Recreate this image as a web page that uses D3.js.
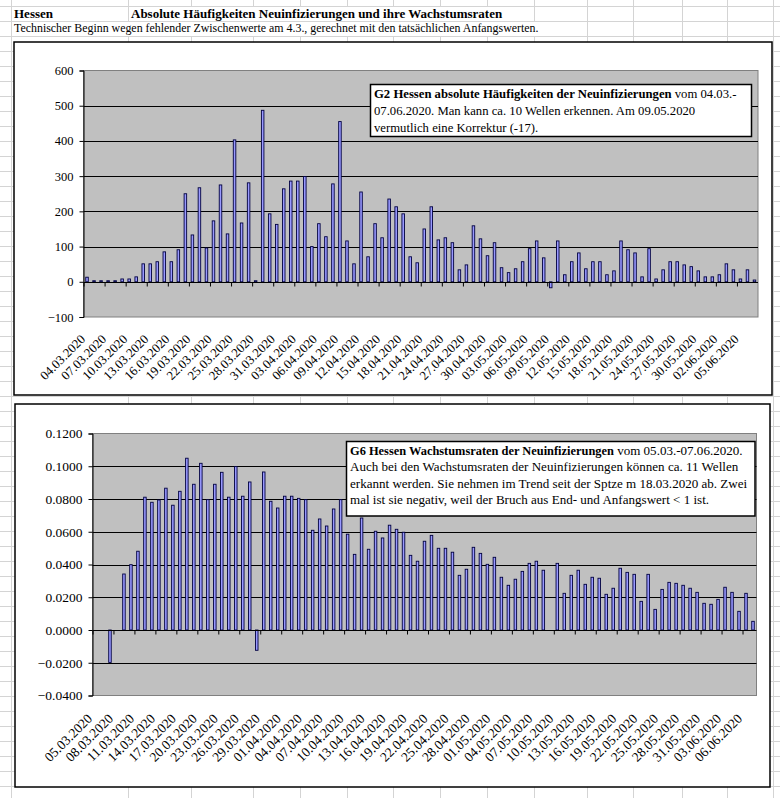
<!DOCTYPE html>
<html>
<head>
<meta charset="utf-8">
<script src="https://cdn.jsdelivr.net/npm/d3@7"></script>
<style>
  body { margin: 0; background: #fff; }
  text { font-family: "Liberation Serif", "Times New Roman", serif; fill: #000; }
</style>
</head>
<body>
<svg id="sheet" width="780" height="798"></svg>
<script>
// ---- data ----
// G2: absolute new infections per day, 04.03.2020 - 07.06.2020
var g2Values = [13, 3, 3, 3, 3, 8, 8, 14, 51, 51, 57, 85, 57, 91, 250, 133, 267, 96, 173, 275,
  136, 403, 167, 281, 3, 487, 193, 163, 264, 286, 286, 299, 100, 165, 128, 278, 455, 116, 51, 255,
  71, 165, 125, 235, 213, 193, 71, 54, 150, 213, 119, 125, 111, 34, 48, 159, 122, 74, 111, 40,
  26, 37, 57, 94, 116, 68, -17, 116, 20, 57, 82, 37, 57, 57, 20, 31, 116, 91, 82, 14,
  94, 8, 34, 57, 57, 48, 43, 31, 14, 14, 20, 51, 34, 8, 34, 5];
var g2TickLabels = ["04.03.2020", "07.03.2020", "10.03.2020", "13.03.2020", "16.03.2020", "19.03.2020",
  "22.03.2020", "25.03.2020", "28.03.2020", "31.03.2020", "03.04.2020", "06.04.2020", "09.04.2020",
  "12.04.2020", "15.04.2020", "18.04.2020", "21.04.2020", "24.04.2020", "27.04.2020", "30.04.2020",
  "03.05.2020", "06.05.2020", "09.05.2020", "12.05.2020", "15.05.2020", "18.05.2020", "21.05.2020",
  "24.05.2020", "27.05.2020", "30.05.2020", "02.06.2020", "05.06.2020"];
var g2YTicks = [-100, 0, 100, 200, 300, 400, 500, 600];

// G6: growth rates, 05.03.2020 - 07.06.2020 (null = no bar)
var g6Values = [null, null, -0.0198, null, 0.0342, 0.0399, 0.0481, 0.0811, 0.0780, 0.0794,
  0.0866, 0.0762, 0.0847, 0.1049, 0.0890, 0.1018, 0.0796, 0.0890, 0.0963, 0.0811,
  0.0998, 0.0817, 0.0904, -0.0124, 0.0965, 0.0786, 0.0745, 0.0817, 0.0817, 0.0804,
  0.0796, 0.0609, 0.0678, 0.0635, 0.0739, 0.0796, 0.0585, 0.0462, 0.0684, 0.0493,
  0.0603, 0.0562, 0.0640, 0.0615, 0.0597, 0.0456, 0.0420, 0.0542, 0.0578, 0.0499,
  0.0499, 0.0475, 0.0334, 0.0371, 0.0505, 0.0468, 0.0401, 0.0444, 0.0322, 0.0273,
  0.0310, 0.0358, 0.0407, 0.0420, 0.0365, null, 0.0407, 0.0224, 0.0334, 0.0365,
  0.0279, 0.0322, 0.0316, 0.0218, 0.0255, 0.0377, 0.0352, 0.0340, 0.0175, 0.0340,
  0.0126, 0.0248, 0.0291, 0.0285, 0.0273, 0.0255, 0.0230, 0.0163, 0.0157, 0.0187,
  0.0261, 0.0230, 0.0114, 0.0224, 0.0053];
var g6TickLabels = ["05.03.2020", "08.03.2020", "11.03.2020", "14.03.2020", "17.03.2020", "20.03.2020",
  "23.03.2020", "26.03.2020", "29.03.2020", "01.04.2020", "04.04.2020", "07.04.2020", "10.04.2020",
  "13.04.2020", "16.04.2020", "19.04.2020", "22.04.2020", "25.04.2020", "28.04.2020", "01.05.2020",
  "04.05.2020", "07.05.2020", "10.05.2020", "13.05.2020", "16.05.2020", "19.05.2020", "22.05.2020",
  "25.05.2020", "28.05.2020", "31.05.2020", "03.06.2020", "06.06.2020"];
var g6YTicks = [-0.04, -0.02, 0, 0.02, 0.04, 0.06, 0.08, 0.10, 0.12];

var fmtDay = d3.timeFormat("%d.%m.%Y");
var g2Dates = d3.timeDay.range(new Date(2020, 2, 4), new Date(2020, 5, 8)).map(fmtDay);
var g6Dates = d3.timeDay.range(new Date(2020, 2, 5), new Date(2020, 5, 8)).map(fmtDay);

var svg = d3.select("#sheet");

// spreadsheet cell grid behind the charts
var rowLines = d3.range(6, 798, 15);
var colLines = [11, 128, 191, 253, 300, 347, 393, 440, 487, 534, 587, 633, 682, 727, 773];
svg.append("g").selectAll("line").data(rowLines).enter().append("line")
  .attr("x1", 0).attr("x2", 780).attr("y1", d => d + 0.5).attr("y2", d => d + 0.5)
  .attr("stroke", "#d4d4d4");
svg.append("g").selectAll("line").data(colLines).enter().append("line")
  .attr("y1", 0).attr("y2", 798).attr("x1", d => d + 0.5).attr("x2", d => d + 0.5)
  .attr("stroke", "#d4d4d4");

// overflowing header text hides the cell borders it covers
svg.append("rect").attr("x", 129.5).attr("y", 7).attr("width", 404).attr("height", 14).attr("fill", "#fff");
svg.append("rect").attr("x", 12).attr("y", 22).attr("width", 574.5).attr("height", 14).attr("fill", "#fff");
svg.append("text").attr("x", 14).attr("y", 18).style("font-size", "13px").style("font-weight", "bold").text("Hessen");
svg.append("text").attr("x", 131).attr("y", 18).style("font-size", "13px").style("font-weight", "bold")
  .text("Absolute Häufigkeiten Neuinfizierungen und ihre Wachstumsraten");
svg.append("text").attr("x", 14).attr("y", 32).style("font-size", "11.9px")
  .text("Technischer Beginn wegen fehlender Zwischenwerte am 4.3., gerechnet mit den tatsächlichen Anfangswerten.");

function drawChart(cfg) {
  var g = svg.append("g");

  // chart area
  g.append("rect")
    .attr("x", cfg.box[0]).attr("y", cfg.box[1]).attr("width", cfg.box[2]).attr("height", cfg.box[3])
    .attr("fill", "#fff").attr("stroke", "#000").attr("stroke-width", 1.5);

  var left = cfg.plot[0], top = cfg.plot[1], right = cfg.plot[2], bottom = cfg.plot[3];

  var x = d3.scaleBand().domain(cfg.dates).range([left, right]).padding(0);
  var xIdx = d3.scaleLinear().domain([0, cfg.dates.length]).range([left, right]);
  var y = d3.scaleLinear().domain(cfg.yDomain).range([bottom, top]);

  // plot area
  g.append("rect")
    .attr("x", left).attr("y", top).attr("width", right - left).attr("height", bottom - top)
    .attr("fill", "#c0c0c0").attr("stroke", "#808080").attr("stroke-width", 1);

  // gridlines
  g.append("g").selectAll("line")
    .data(cfg.yTicks.filter(d => d !== 0 && d > cfg.yDomain[0] && d < cfg.yDomain[1]))
    .enter().append("line")
    .attr("x1", left).attr("x2", right)
    .attr("y1", d => Math.round(y(d)) + 0.5).attr("y2", d => Math.round(y(d)) + 0.5)
    .attr("stroke", "#000").attr("stroke-width", 1);

  // bars
  var bw = x.bandwidth() * 0.36;
  var rows = cfg.dates.map((d, i) => ({ date: d, value: cfg.values[i] })).filter(d => d.value !== null);
  g.append("g").selectAll("rect")
    .data(rows).enter().append("rect")
    .attr("x", d => x(d.date) + (x.bandwidth() - bw) / 2)
    .attr("y", d => y(Math.max(0, d.value)))
    .attr("width", bw)
    .attr("height", d => Math.abs(y(d.value) - y(0)))
    .attr("fill", "#9999ff").attr("stroke", "#000040").attr("stroke-width", 0.9);

  // value axis
  var yAxis = g.append("g")
    .attr("transform", `translate(${left},0)`)
    .call(d3.axisLeft(y).tickValues(cfg.yTicks).tickSize(4).tickPadding(6).tickFormat(cfg.fmt));
  yAxis.attr("font-family", null);
  yAxis.select(".domain").attr("stroke", "#000");
  yAxis.selectAll("line").attr("stroke", "#000");
  yAxis.selectAll("text").style("font-size", cfg.fs + "px").attr("fill", "#000");

  // category axis at zero with ticks every 3 days
  var xAxis = g.append("g")
    .attr("transform", `translate(0,${Math.round(y(0)) + 0.5})`)
    .call(d3.axisBottom(xIdx).tickValues(d3.range(0, cfg.dates.length, 3)).tickSize(4).tickFormat(""));
  xAxis.select(".domain").attr("d", `M${left},0H${right}`).attr("stroke", "#000");
  xAxis.selectAll("line").attr("stroke", "#000");

  // category labels below the plot area
  g.append("g").selectAll("text")
    .data(cfg.tickLabels).enter().append("text")
    .attr("transform", d => `translate(${x(d) + x.bandwidth() / 2 + cfg.labDx},${bottom + cfg.labDy}) rotate(-45)`)
    .attr("text-anchor", "end")
    .style("font-size", cfg.labFs + "px")
    .text(d => d);

  // note box
  g.append("rect")
    .attr("x", cfg.note.box[0]).attr("y", cfg.note.box[1]).attr("width", cfg.note.box[2]).attr("height", cfg.note.box[3])
    .attr("fill", "#fff").attr("stroke", "#000").attr("stroke-width", 1.5);
  cfg.note.lines.forEach(function(line, i) {
    var t = g.append("text")
      .attr("x", cfg.note.box[0] + 3.5)
      .attr("y", cfg.note.y0 + i * cfg.note.lh)
      .style("font-size", cfg.note.fs + "px");
    line.forEach(function(seg) {
      t.append("tspan")
        .style("font-weight", seg.b ? "bold" : "normal")
        .style("font-size", (seg.b ? cfg.note.fsBold : cfg.note.fs) + "px")
        .text(seg.t);
    });
  });
}

drawChart({
  box: [14, 42, 758, 353],
  plot: [83.5, 70.5, 758, 317],
  dates: g2Dates,
  values: g2Values,
  tickLabels: g2TickLabels,
  yDomain: [-100, 600],
  yTicks: g2YTicks,
  fmt: d3.format("d"),
  fs: 12.5,
  labFs: 12.8,
  labDx: -1,
  labDy: 23,
  note: {
    box: [370.5, 84.5, 381, 52],
    y0: 97.5, lh: 17, fs: 12.7, fsBold: 12.7,
    lines: [
      [{ t: "G2 Hessen absolute Häufigkeiten der Neuinfizierungen", b: true }, { t: " vom 04.03.-" }],
      [{ t: "07.06.2020. Man kann ca. 10 Wellen erkennen. Am 09.05.2020" }],
      [{ t: "vermutlich eine Korrektur (-17)." }]
    ]
  }
});

drawChart({
  box: [15, 404, 755, 383],
  plot: [92.5, 433.5, 756.5, 695.5],
  dates: g6Dates,
  values: g6Values,
  tickLabels: g6TickLabels,
  yDomain: [-0.04, 0.12],
  yTicks: g6YTicks,
  fmt: d3.format(".4f"),
  fs: 13.5,
  labFs: 13.5,
  labDx: -3,
  labDy: 24,
  note: {
    box: [346.5, 441.5, 408.5, 74.5],
    y0: 455, lh: 16.4, fs: 13.05, fsBold: 12.4,
    lines: [
      [{ t: "G6 Hessen Wachstumsraten der Neuinfizierungen", b: true }, { t: " vom 05.03.-07.06.2020." }],
      [{ t: "Auch bei den Wachstumsraten der Neuinfizierungen können ca. 11 Wellen" }],
      [{ t: "erkannt werden. Sie nehmen im Trend seit der Sptze m 18.03.2020 ab. Zwei" }],
      [{ t: "mal ist sie negativ, weil der Bruch aus End- und Anfangswert < 1 ist." }]
    ]
  }
});
</script>
</body>
</html>
